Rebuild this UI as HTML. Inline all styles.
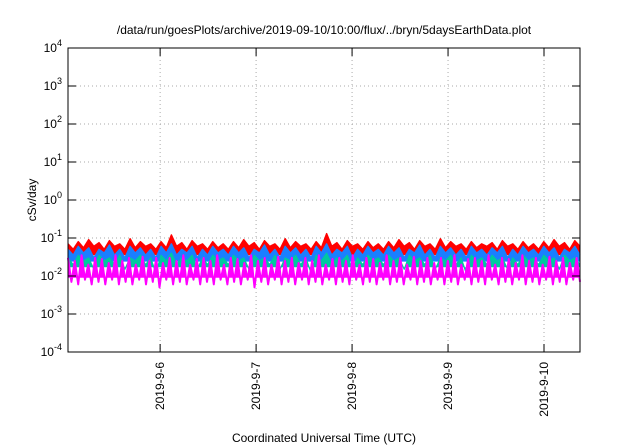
<!DOCTYPE html>
<html><head><meta charset="utf-8"><style>
body{margin:0;background:#fff}
svg{font-family:"Liberation Sans",sans-serif;display:block}
</style></head><body>
<svg id="chart" width="640" height="448" xmlns="http://www.w3.org/2000/svg">
<rect width="640" height="448" fill="#fff"/>
<text x="324" y="34" font-size="12" text-anchor="middle">/data/run/goesPlots/archive/2019-09-10/10:00/flux/../bryn/5daysEarthData.plot</text>
<text transform="translate(36,200) rotate(-90)" font-size="12" text-anchor="middle">cSv/day</text>
<text x="324" y="442" font-size="12" text-anchor="middle">Coordinated Universal Time (UTC)</text>
<g id="grid"></g><g id="series"></g><g id="axes"></g>
</svg>
<script>
const yTickExps=[4,3,2,1,0,-1,-2,-3,-4];
const xTickLabels=["2019-9-6","2019-9-7","2019-9-8","2019-9-9","2019-9-10"];
const xTickDays=[6,7,8,9,10];
const dayStart=5.04, dayEnd=10.375;
const redVals=[0.07,0.05,0.08,0.055,0.09,0.06,0.075,0.05,0.085,0.06,0.07,0.05,0.095,0.055,0.08,0.06,0.07,0.05,0.08,0.055,0.12,0.06,0.075,0.05,0.085,0.06,0.07,0.05,0.08,0.055,0.07,0.05,0.08,0.055,0.09,0.06,0.075,0.05,0.085,0.06,0.07,0.05,0.095,0.055,0.08,0.06,0.07,0.05,0.08,0.055,0.13,0.06,0.075,0.05,0.085,0.06,0.07,0.05,0.08,0.055,0.07,0.05,0.08,0.055,0.09,0.06,0.075,0.05,0.085,0.06,0.07,0.05,0.095,0.055,0.08,0.06,0.07,0.05,0.08,0.055,0.07,0.06,0.075,0.05,0.085,0.06,0.07,0.05,0.08,0.055,0.07,0.05,0.08,0.055,0.09,0.06,0.075,0.05,0.085,0.06];
const blueVals=[0.05,0.035,0.06,0.04,0.055,0.03,0.05,0.04,0.065,0.035,0.05,0.03,0.06,0.04,0.055,0.035,0.05,0.03,0.06,0.04,0.07,0.035,0.05,0.04,0.06,0.03,0.05,0.035,0.06,0.04,0.05,0.035,0.06,0.04,0.055,0.03,0.05,0.04,0.065,0.035,0.05,0.03,0.06,0.04,0.055,0.035,0.05,0.03,0.06,0.04,0.07,0.035,0.05,0.04,0.06,0.03,0.05,0.035,0.06,0.04,0.05,0.035,0.06,0.04,0.055,0.03,0.05,0.04,0.065,0.035,0.05,0.03,0.06,0.04,0.055,0.035,0.05,0.03,0.06,0.04,0.05,0.035,0.055,0.04,0.06,0.03,0.05,0.035,0.06,0.04,0.05,0.035,0.06,0.04,0.055,0.03,0.05,0.04,0.06,0.035];
const greenVals=[0.03,0.02,0.035,0.025,0.03,0.015,0.035,0.025,0.03,0.02,0.035,0.015,0.03,0.025,0.035,0.02,0.03,0.012,0.035,0.025,0.04,0.02,0.03,0.025,0.035,0.015,0.03,0.02,0.035,0.025,0.03,0.02,0.035,0.025,0.03,0.015,0.035,0.025,0.03,0.02,0.035,0.015,0.03,0.025,0.035,0.02,0.03,0.012,0.035,0.025,0.04,0.02,0.03,0.025,0.035,0.015,0.03,0.02,0.035,0.025,0.03,0.02,0.035,0.025,0.03,0.015,0.035,0.025,0.03,0.02,0.035,0.015,0.03,0.025,0.035,0.02,0.03,0.012,0.035,0.025,0.03,0.02,0.035,0.025,0.03,0.015,0.03,0.02,0.035,0.025,0.03,0.02,0.035,0.025,0.03,0.015,0.035,0.025,0.03,0.02];
const magentaVals=[0.03,0.007,0.025,0.006,0.035,0.008,0.02,0.006,0.03,0.007,0.028,0.006,0.022,0.008,0.035,0.006,0.025,0.007,0.03,0.006,0.02,0.008,0.032,0.006,0.025,0.007,0.03,0.005,0.022,0.008,0.03,0.006,0.025,0.007,0.035,0.006,0.02,0.008,0.028,0.006,0.03,0.007,0.025,0.006,0.035,0.008,0.02,0.006,0.03,0.007,0.028,0.006,0.022,0.008,0.035,0.005,0.025,0.007,0.03,0.006,0.02,0.008,0.032,0.006,0.025,0.007,0.03,0.006,0.022,0.008,0.03,0.006,0.025,0.007,0.035,0.006,0.02,0.008,0.028,0.006,0.03,0.007,0.025,0.006,0.035,0.008,0.02,0.006,0.03,0.007,0.028,0.006,0.022,0.008,0.035,0.006,0.025,0.007,0.03,0.006,0.02,0.008,0.032,0.006,0.025,0.007,0.03,0.006,0.022,0.008,0.03,0.006,0.025,0.007,0.035,0.006,0.02,0.008,0.028,0.006,0.03,0.007,0.025,0.006,0.035,0.008,0.02,0.006,0.03,0.007,0.028,0.006,0.022,0.008,0.035,0.006,0.025,0.007,0.03,0.006,0.02,0.008,0.032,0.006,0.025,0.007,0.03,0.006,0.022,0.008,0.03,0.007];
const L=68,R=580,T=48,B=352;
const NS="http://www.w3.org/2000/svg";
function yScale(v){return B-(Math.log10(v)+4)/8*(B-T);}
function xScale(d){return L+(d-dayStart)/(dayEnd-dayStart)*(R-L);}
function mk(tag,attrs,parent){const e=document.createElementNS(NS,tag);for(const k in attrs)e.setAttribute(k,attrs[k]);parent.appendChild(e);return e;}
const grid=document.getElementById('grid'),axes=document.getElementById('axes'),ser=document.getElementById('series');
yTickExps.forEach(ex=>{const y=yScale(Math.pow(10,ex));
 if(ex<4&&ex>-4){const g=mk('line',{x1:L,x2:R,y1:y,y2:y,stroke:'#aaa','stroke-dasharray':'1,3'},grid);
 
 }
 mk('line',{x1:L,x2:L+8,y1:y,y2:y,stroke:'#000'},axes);mk('line',{x1:R,x2:R-8,y1:y,y2:y,stroke:'#000'},axes);
 const t=mk('text',{x:L-6,y:y+4,'font-size':12,'text-anchor':'end'},axes);
 
 
 t.innerHTML='10<tspan dy="-6" font-size="9">'+ex+'</tspan>';});
xTickDays.forEach((d,i)=>{const x=xScale(d);
 const g=mk('line',{x1:x,x2:x,y1:T,y2:B,stroke:'#aaa','stroke-dasharray':'1,3'},grid);
 
 
 mk('line',{x1:x,x2:x,y1:B,y2:B-8,stroke:'#000'},axes);mk('line',{x1:x,x2:x,y1:T,y2:T+8,stroke:'#000'},axes);
 const t=mk('text',{transform:`translate(${x+4},${B+10}) rotate(-90)`,'font-size':12,'text-anchor':'end'},axes);
 
 
 t.textContent=xTickLabels[i];});
const frame=mk('rect',{x:L,y:T,width:R-L,height:B-T,fill:'none',stroke:'#000','stroke-width':1},axes);


function series(vals,color,name,w,floor){const arr=vals.map((v,i)=>xScale(dayStart+i/(vals.length-1)*(dayEnd-dayStart)).toFixed(1)+','+yScale(v).toFixed(1));
 const pts=arr.join(' ');
 const f=mk('polygon',{points:pts+' '+R+','+yScale(floor).toFixed(1)+' '+L+','+yScale(floor).toFixed(1),fill:color,stroke:'none'},ser);
 
 
 const p=mk('polyline',{points:pts,fill:'none',stroke:color,'stroke-width':w,'stroke-linejoin':'round'},ser);
 
 }
series(redVals,'#ff0000','series-red',1.5,0.035);
series(blueVals,'#1a7fff','series-blue',1.5,0.024);
series(greenVals,'#00c8a0','series-green',1.2,0.017);
series(magentaVals,'#ff00ff','series-magenta',2,0.009);
</script>
</body></html>
